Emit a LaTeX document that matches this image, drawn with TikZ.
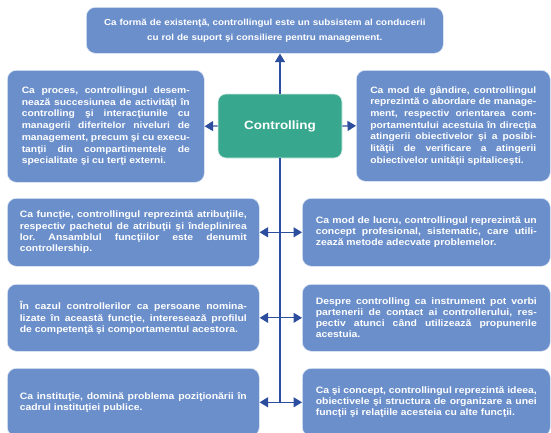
\documentclass[tikz,border=0pt]{standalone}
\usepackage{fontspec}
\setmainfont{Liberation Sans}[FakeStretch=1.12]
\usetikzlibrary{arrows.meta,positioning}
\definecolor{cardblue}{HTML}{6B8FCB}
\definecolor{ctrlgreen}{HTML}{37A78D}
\definecolor{wire}{HTML}{2D4E9E}
\tolerance=10000
\hyphenpenalty=10000
\frenchspacing

\begin{document}
\begin{tikzpicture}[
  x=1pt,y=-1pt,
  card/.style={draw=white!80!cardblue,line width=0.6pt,rounded corners=9pt,fill=cardblue,text=white,anchor=north west,inner ysep=0pt,align=justify,font=\bfseries\fontsize{9.3}{11.2}\selectfont},
  wide/.style={card,text width=227pt,inner xsep=12.5pt},
  rwide/.style={card,text width=221pt,inner xsep=13.5pt},
  hub/.style={draw=white!80!ctrlgreen,line width=0.6pt,rounded corners=8pt,fill=ctrlgreen,text=white,minimum width=124pt,minimum height=64pt,font=\bfseries\fontsize{12}{14}\selectfont},
  arr/.style={-{Triangle[length=8.5pt,width=10pt]},line width=1.2pt,color=wire},
  wire line/.style={line width=1.2pt,color=wire}
]
\clip (0,0) rectangle (551,432);
\fill[white] (0,0) rectangle (551,432);

\node[card,align=center,text width=345pt,inner xsep=6pt,minimum height=46pt,font=\bfseries\fontsize{8.8}{15}\selectfont] (top) at (86,7)
  {Ca formă de existenţă, controllingul este un subsistem al conducerii\\cu rol de suport şi consiliere pentru management.};
\node[hub] (ctrl) at (280,126) {Controlling};

% first row
\node[card,text width=168pt,inner xsep=14.5pt,minimum height=112pt,font=\bfseries\fontsize{9.2}{11.7}\selectfont] (l1) at (7,70)
  {Ca proces, controllingul desem-\linebreak nează succesiunea de activităţi în\linebreak controlling şi interacţiunile cu\linebreak managerii diferitelor niveluri de\linebreak management, precum şi cu execu-\linebreak tanţii din compartimentele de\linebreak specialitate şi cu terţi externi.};
\node[card,text width=166pt,inner xsep=14pt,minimum height=111pt,font=\bfseries\fontsize{9.2}{11.7}\selectfont] (r1) at (356,70)
  {Ca mod de gândire, controllingul\linebreak reprezintă o abordare de manage-\linebreak ment, respectiv orientarea com-\linebreak portamentului acestuia în direcţia\linebreak atingerii obiectivelor şi a posibi-\linebreak lităţii de verificare a atingerii\linebreak obiectivelor unităţii spitaliceşti.};

% branches
\node[wide,minimum height=68pt] (l2) at (7,198)
  {Ca funcţie, controllingul reprezintă atribuţiile,\linebreak respectiv pachetul de atribuţii şi îndeplinirea\linebreak lor. Ansamblul funcţiilor este denumit\linebreak controllership.};
\node[rwide,minimum height=68pt] (r2) at (302,198)
  {Ca mod de lucru, controllingul reprezintă un\linebreak concept profesional, sistematic, care utili-\linebreak zează metode adecvate problemelor.};
\node[wide,minimum height=67pt] (l3) at (7,284)
  {În cazul controllerilor ca persoane nomina-\linebreak lizate în această funcţie, interesează profilul\linebreak de competenţă şi comportamentul acestora.};
\node[rwide,minimum height=67pt] (r3) at (302,284)
  {Despre controlling ca instrument pot vorbi\linebreak partenerii de contact ai controllerului, res-\linebreak pectiv atunci când utilizează propunerile\linebreak acestuia.};
\node[wide,minimum height=68pt] (l4) at (7,368)
  {Ca instituţie, domină problema poziţionării în\linebreak cadrul instituţiei publice.};
\node[rwide,minimum height=68pt] (r4) at (302,368)
  {Ca şi concept, controllingul reprezintă ideea,\linebreak obiectivele şi structura de organizare a unei\linebreak funcţii şi relaţiile acesteia cu alte funcţii.};

\draw[arr] (ctrl.north) -- (ctrl.north |- top.south);
\draw[arr] (ctrl.west) -- (l1.east);
\draw[arr] (ctrl.east) -- (r1.west);
\draw[wire line] (ctrl.south) -- (ctrl.south |- l4.east);
\foreach \row in {2,3,4}{
  \draw[arr] (ctrl.south |- l\row.east) -- (l\row.east);
  \draw[arr] (ctrl.south |- r\row.west) -- (r\row.west);
}
\end{tikzpicture}
\end{document}
